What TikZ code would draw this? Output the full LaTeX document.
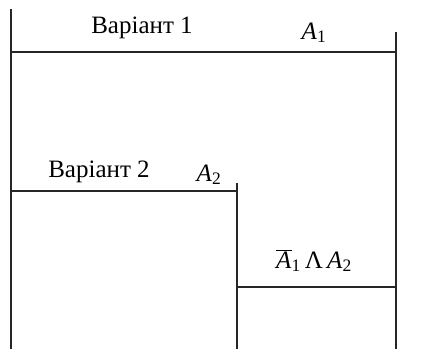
\documentclass[tikz,border=0pt]{standalone}
\usepackage{fontspec}
\setmainfont{Liberation Serif}
\newcommand{\evt}[2]{\textit{#1}\textsubscript{#2}}
\newcommand{\notevt}[2]{$\overline{\mbox{\textit{#1}}}$\textsubscript{#2}}
\tikzset{
  branch/.style={
    line width=1.4pt,
    draw=black!85
  },
  tag/.style={
    inner sep=0pt,
    anchor=base,
    font=\fontsize{25}{30}\selectfont
  }
}

\begin{document}
\begin{tikzpicture}[x=1pt,y=-1pt]
        \useasboundingbox (0,0) rectangle (439,349);
        % outer branch
        \draw[branch] (11,9) -- (11,349);
        \draw[branch] (11,52) -- (396,52);
        \draw[branch] (396,32) -- (396,349);
        % inner branch
        \draw[branch] (11,191) -- (237,191);
        \draw[branch] (237,183) -- (237,349);
        \draw[branch] (237,287) -- (396,287);
        % labels
        \node[tag] (var1) at (142,33) {Варіант 1};
        \node[tag] (a1) at (314,39) {\evt{A}{1}};
        \node[tag] (var2) at (99,177) {Варіант 2};
        \node[tag] (a2) at (209,181) {\evt{A}{2}};
        \node[tag] (cond) at (314,268) {\notevt{A}{1}\,Λ\,\evt{A}{2}};
    \end{tikzpicture}
\end{document}
